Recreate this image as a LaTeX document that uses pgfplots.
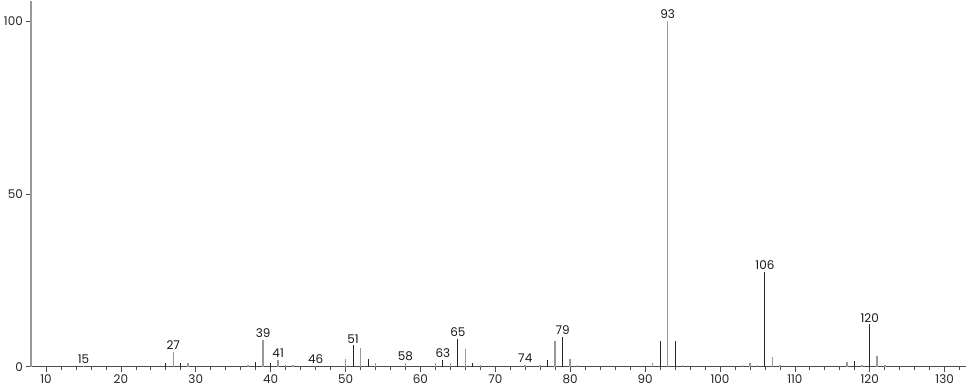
\documentclass[border=0pt]{standalone}
\usepackage{fontspec}
\setmainfont{Poppins}
\usepackage{pgfplots}
\pgfplotsset{compat=1.18}
\begin{document}
\fontsize{12}{14}\selectfont
\begin{tikzpicture}
\begin{axis}[
  scale only axis,
  width=937pt, height=367pt,
  xmin=8, xmax=132.8,
  ymin=0, ymax=105.9,
  axis lines=left,
  axis line style={-, draw=black!70, line width=0.8pt},
  every outer y axis line/.append style={draw=black!40, line width=1.6pt},
  xtick={10,20,...,130},
  minor xtick={12,14,16,18,22,24,26,28,32,34,36,38,42,44,46,48,52,54,56,58,62,64,66,68,72,74,76,78,82,84,86,88,92,94,96,98,102,104,106,108,112,114,116,118,122,124,126,128,132},
  ytick={0,50,100},
  tick align=outside,
  major tick length=5pt,
  minor tick length=3pt,
  tick style={draw=black!70, line width=0.7pt},
  ticklabel style={font=\fontsize{12}{14}\selectfont, text=black!85},
  /pgf/number format/assume math mode=true,
  xticklabel style={yshift=1pt},
  yticklabel style={xshift=1pt},
  clip=false,
]
% dark (thin) lines
\addplot[ycomb, draw=black!85, line width=1pt, mark=none] coordinates {
(26,1.2) (28,1.2) (38,1.4) (40,1.0) (51,6.2) (53,2.4) (63,2.0) (65,8.2) (67,1.1)
(77,1.9) (79,8.7) (92,7.6) (94,7.6) (106,27.4) (118,1.8) (120,12.3)
};
% grey (wider) lines
\addplot[ycomb, draw=black!40, line width=1.6pt, mark=none] coordinates {
(15,0.3) (27,4.3) (29,1.0) (37,0.4) (39,7.8) (41,2.0) (42,0.5) (43,0.5) (46,0.3)
(50,2.4) (52,5.4) (54,1.0) (58,1.2) (62,1.0) (64,1.1) (66,5.1) (68,0.4)
(74,0.5) (76,0.5) (78,7.4) (80,2.4) (81,0.4) (91,1.2) (93,100) (95,0.5)
(103,0.5) (104,1.1) (105,0.5) (107,2.8) (108,0.4) (117,1.3) (119,0.6)
(121,3.1) (122,0.4)
};
% peak labels
\addplot[only marks, mark=none, point meta=x,
  nodes near coords={\pgfmathprintnumber{\pgfplotspointmeta}},
  every node near coord/.append style={anchor=south, inner sep=1pt, yshift=1pt,
    font=\fontsize{12}{14}\selectfont, text=black!90}] coordinates {
(15,0.3) (27,4.3) (39,7.8) (41,2.0) (46,0.3) (51,6.2) (58,1.2) (63,2.0) (65,8.2)
(74,0.5) (79,8.7) (93,100) (106,27.4) (120,12.3)
};
\end{axis}
\end{tikzpicture}
\end{document}
